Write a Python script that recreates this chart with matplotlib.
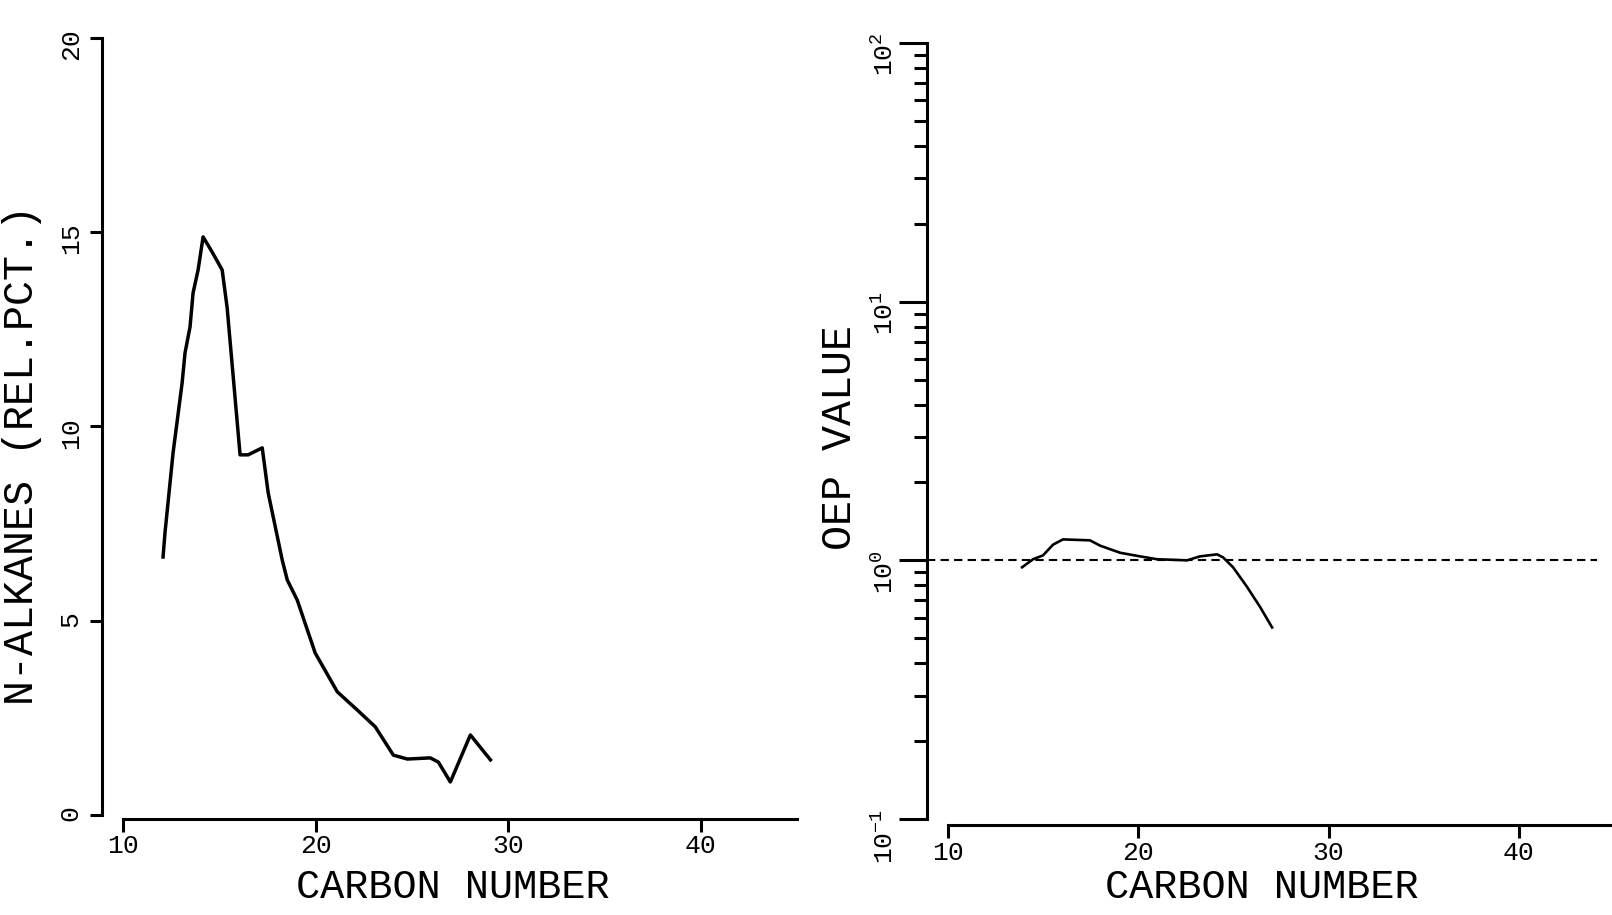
import numpy as np
import matplotlib
matplotlib.use("Agg")
import matplotlib.pyplot as plt
from matplotlib.ticker import NullFormatter, LogLocator

plt.rcParams['font.family'] = ['Liberation Mono', 'DejaVu Sans Mono']
plt.rcParams['mathtext.fontset'] = 'custom'
plt.rcParams['mathtext.rm'] = 'Liberation Mono'

# left panel: n-alkane distribution
alk_carbon = [12.08, 12.18, 12.60, 13.07, 13.22, 13.48, 13.64, 13.90, 14.16,
              14.63, 15.15, 15.41, 16.08, 16.50, 17.23, 17.54, 18.27, 18.53,
              19.05, 19.98, 21.13, 22.17, 23.10, 24.04, 24.77, 25.96, 26.38,
              27.00, 28.04, 29.08]
alk_pct = [6.64, 7.26, 9.32, 11.12, 11.89, 12.56, 13.44, 14.03, 14.88,
           14.49, 14.03, 13.05, 9.27, 9.27, 9.45, 8.29, 6.56, 6.05,
           5.53, 4.17, 3.17, 2.70, 2.27, 1.54, 1.44, 1.47, 1.36,
           0.85, 2.06, 1.42]

# right panel: OEP value
oep_carbon = [13.89, 14.47, 14.99, 15.52, 16.04, 17.46, 17.99, 19.04, 20.09,
              20.98, 22.56, 23.24, 24.14, 24.45, 24.98, 25.71, 26.40, 27.03]
oep_value = [0.94, 1.01, 1.045, 1.15, 1.205, 1.195, 1.14, 1.07, 1.036,
             1.01, 1.0, 1.036, 1.055, 1.027, 0.94, 0.79, 0.66, 0.55]
ref_x = [8.9, 44.1]
ref_y = [1.0, 1.0]

x_ticks = [10, 20, 30, 40]
x_ticklabels = ['10', '20', '30', '40']
alk_yticks = [0, 5, 10, 15, 20]
alk_yticklabels = ['0', '5', '10', '15', '20']
oep_yticks = [0.1, 1, 10, 100]
oep_yticklabels = [r'$\mathregular{10^{-1}}$', r'$\mathregular{10^{0}}$',
                   r'$\mathregular{10^{1}}$', r'$\mathregular{10^{2}}$']

fig = plt.figure(figsize=(16.12, 9.15), dpi=100)
ax1 = fig.add_axes([0.0763, 0.1093, 0.4181, 0.8492])
ax2 = fig.add_axes([0.5881, 0.1049, 0.4132, 0.8481])

lw_ax = 2.2
for ax in (ax1, ax2):
    ax.spines['top'].set_visible(False)
    ax.spines['right'].set_visible(False)
    for s in ('left', 'bottom'):
        ax.spines[s].set_linewidth(lw_ax)
    ax.spines['left'].set_position(('outward', 15))
    ax.set_xlim(10, 45)
    ax.set_xticks(x_ticks)
    ax.set_xticklabels(x_ticklabels)
    ax.tick_params(axis='x', direction='out', length=9, width=lw_ax,
                   labelsize=19, pad=2)
    ax.set_xlabel('CARBON NUMBER', fontsize=29)

# left
ax1.spines['bottom'].set_position(('outward', 3))
ax1.plot(alk_carbon, alk_pct, color='black', lw=2.5)
ax1.set_ylim(0, 20)
ax1.set_yticks(alk_yticks)
ax1.set_yticklabels(alk_yticklabels)
ax1.tick_params(axis='y', direction='out', length=9, width=lw_ax,
                labelsize=19, pad=5, labelrotation=90)
ax1.set_ylabel('N-ALKANES (REL.PCT.)', fontsize=30)
ax1.yaxis.set_label_coords(-0.12, 0.463)
ax1.xaxis.set_label_coords(0.49, -0.068)

# right
ax2.spines['bottom'].set_position(('outward', 4.5))
ax2.set_yscale('log')
ax2.plot(oep_carbon, oep_value, color='black', lw=1.9)
ax2.plot(ref_x, ref_y, color='black', lw=1.5, dashes=(4, 2.5), clip_on=False)
ax2.set_ylim(0.1, 100)
ax2.set_yticks(oep_yticks)
ax2.set_yticklabels(oep_yticklabels)
ax2.yaxis.set_minor_locator(LogLocator(base=10, subs=np.arange(2, 10)))
ax2.yaxis.set_minor_formatter(NullFormatter())
ax2.tick_params(axis='y', which='major', direction='out', length=20,
                width=lw_ax, labelsize=19, pad=1, labelrotation=90)
ax2.tick_params(axis='y', which='minor', direction='out', length=9.5,
                width=lw_ax)
ax2.set_ylabel('OEP VALUE', fontsize=30)
ax2.yaxis.set_label_coords(-0.132, 0.492)
ax2.xaxis.set_label_coords(0.471, -0.063)

fig.savefig('out.png', dpi=100)
